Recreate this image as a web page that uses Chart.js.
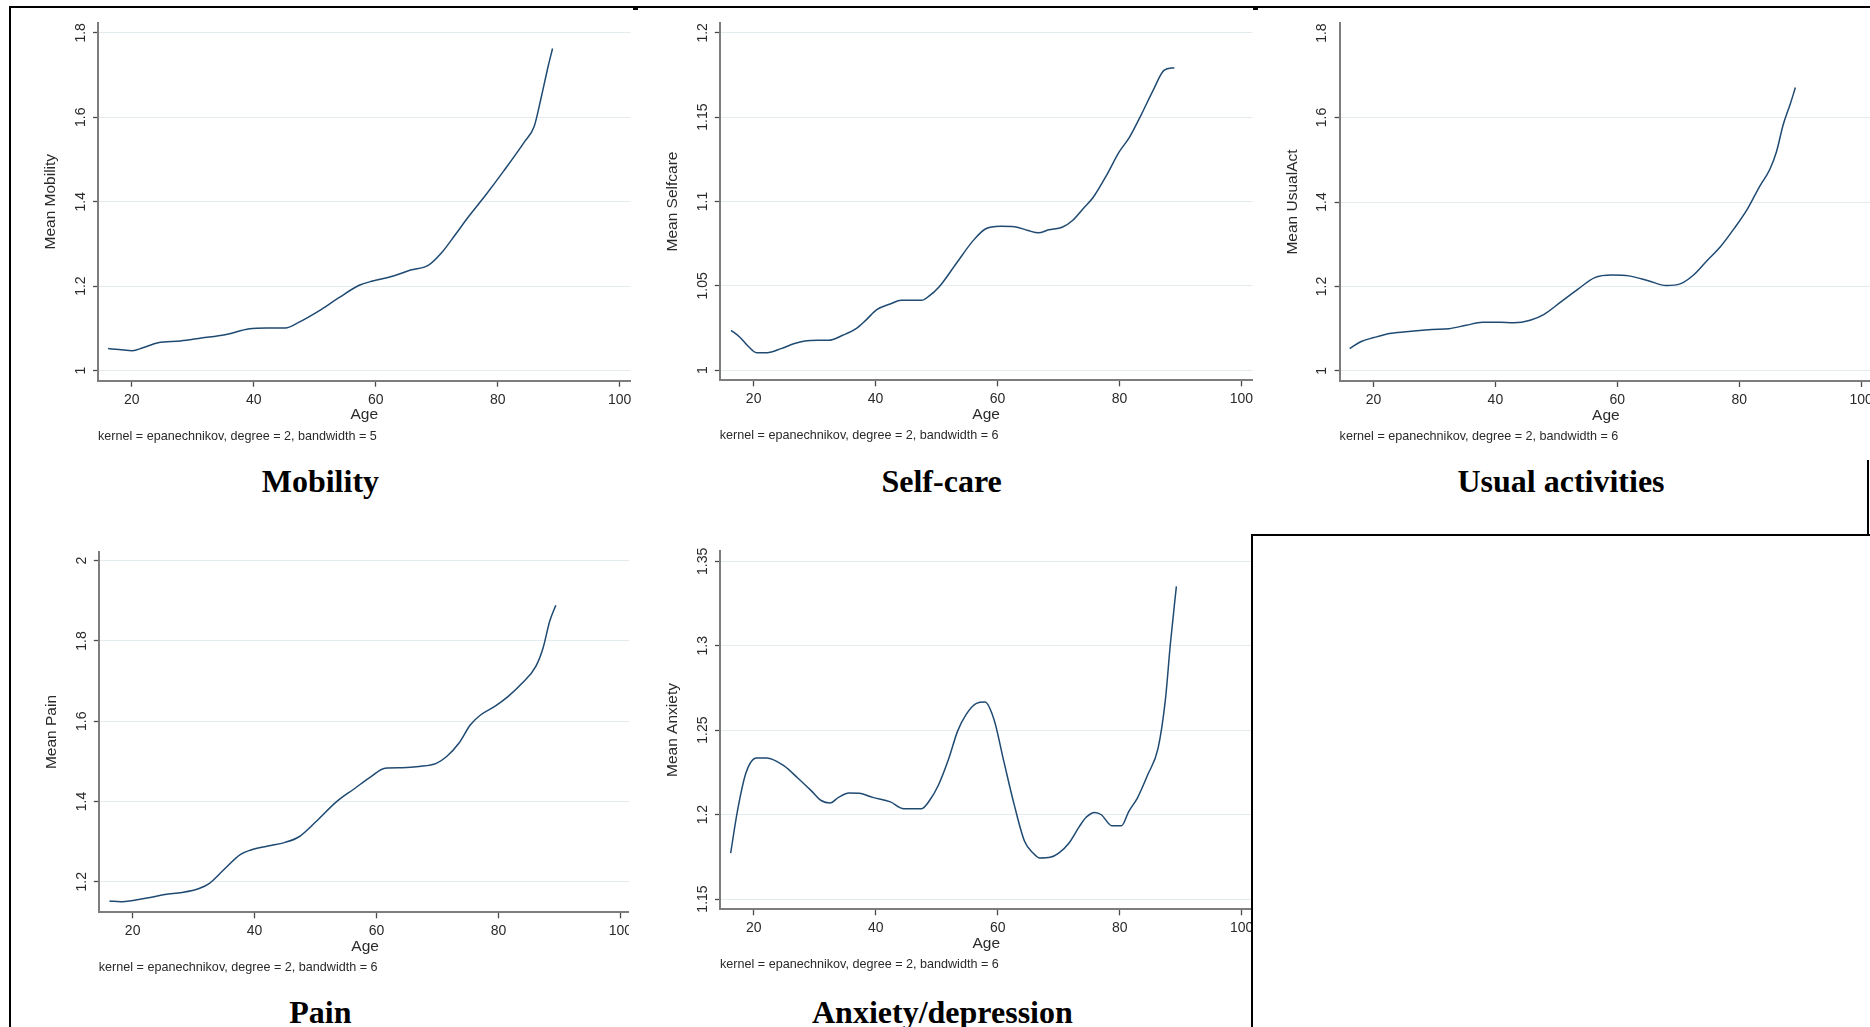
<!DOCTYPE html>
<html>
<head>
<meta charset="utf-8">
<script src="https://cdn.jsdelivr.net/npm/chart.js@4.4.1/dist/chart.umd.min.js"></script>
<style>
  html, body { margin: 0; padding: 0; background: #fff; width: 1870px; height: 1027px; overflow: hidden; position: relative; }
  .panel { position: absolute; }
  .panel canvas { display: block; }
  .cap { position: absolute; width: 500px; height: 40px; line-height: 40px; text-align: center; white-space: nowrap;
         font-family: "Liberation Serif", "Times New Roman", serif; font-weight: bold; font-size: 32px; color: #000; }
  .ln { position: absolute; background: #000; }
</style>
</head>
<body>
<script>
// ---------------- DATA ----------------
const xTicks = [20, 40, 60, 80, 100];
const xRange = [14.45, 101.8];

const mobilityAge  = [16.1,17.9,20.1,21.8,24.3,28,31.4,35.3,39.3,42.1,45.2,47.2,51.1,53.9,57.3,59.5,62.9,65.7,68.6,70.8,73.1,75.3,78.1,81,84.3,86,87.2,88.3,89];
const mobilityMean = [1.052,1.050,1.047,1.054,1.066,1.070,1.077,1.085,1.099,1.101,1.101,1.113,1.145,1.172,1.202,1.212,1.224,1.238,1.249,1.279,1.323,1.366,1.417,1.473,1.540,1.579,1.651,1.722,1.763];
const mobilityYTicks = [1, 1.2, 1.4, 1.6, 1.8];
const mobilityYRange = [0.976, 1.824];

const selfcareAge  = [16.3,17.7,19.1,20.5,22.2,24.5,26.7,28.4,30.6,32.3,34.6,36.8,38.5,40.2,42.5,44.2,47.5,48.7,50.4,53.2,56,58,60.5,62.8,65,66.7,68.4,70.6,72.3,74,75.7,78,79.9,81.6,83.6,85.6,87.3,89];
const selfcareMean = [1.0236,1.0197,1.0142,1.0104,1.0104,1.0128,1.0158,1.0173,1.0177,1.0177,1.0207,1.0246,1.0300,1.0359,1.0394,1.0414,1.0414,1.0437,1.0493,1.0631,1.0768,1.0837,1.0853,1.0851,1.0828,1.0814,1.0832,1.0847,1.0887,1.0956,1.1025,1.1163,1.1291,1.1379,1.1517,1.1665,1.1777,1.1793];
const selfcareYTicks = [1, 1.05, 1.1, 1.15, 1.2];
const selfcareYRange = [0.994, 1.206];

const usualAge  = [16.1,17.9,20.1,22.9,26.2,29.6,32.4,35.2,37.9,40.7,43,45.7,48,50.8,53.5,56.3,59.1,61.9,65.2,68,70.3,72.5,74.7,76.9,79.2,81.4,83.3,85,86.1,87.2,88.4,89.2];
const usualMean = [1.053,1.069,1.079,1.089,1.094,1.098,1.100,1.108,1.115,1.115,1.114,1.120,1.134,1.164,1.193,1.221,1.227,1.225,1.213,1.202,1.206,1.227,1.261,1.294,1.338,1.385,1.436,1.477,1.519,1.583,1.634,1.671];
const usualYTicks = [1, 1.2, 1.4, 1.6, 1.8];
const usualYRange = [0.976, 1.824];

const painAge  = [16.2,18,20.3,23.1,25.3,28.1,30.9,32.6,34.9,37.7,39.4,42.2,45,47.3,50.1,53.5,56.3,59.1,61.4,64.2,67,69.8,71.5,73.5,75.4,77.1,79.4,81.6,83.9,86.1,87.3,88.4,89.4];
const painMean = [1.152,1.150,1.154,1.161,1.168,1.173,1.183,1.196,1.229,1.268,1.279,1.289,1.298,1.312,1.350,1.400,1.431,1.462,1.483,1.484,1.487,1.495,1.512,1.545,1.591,1.616,1.637,1.662,1.695,1.736,1.782,1.849,1.889];
const painYTicks = [1.2, 1.4, 1.6, 1.8, 2];
const painYRange = [1.1237, 2.0224];

const anxietyAge  = [16.2,17.3,18.7,20.4,22.1,24.9,27.2,29.4,31.1,32.5,33.9,35.6,37.3,39.5,42.4,44.6,47.5,48.9,50.3,52,53.4,54.8,56.5,57.9,59.4,61,62.7,64.4,65.8,66.9,68.6,70,71.7,73.4,74.5,75.9,77,78.7,80.3,81.5,82.9,84.6,86.3,87.5,88.3,89.3];
const anxietyMean = [1.1772,1.2019,1.2246,1.2335,1.2335,1.2290,1.2217,1.2142,1.2082,1.2069,1.2102,1.2128,1.2126,1.2102,1.2075,1.2035,1.2035,1.2088,1.2177,1.2335,1.2493,1.2592,1.2659,1.2667,1.2562,1.2315,1.2059,1.1842,1.1772,1.1743,1.1747,1.1772,1.1832,1.1930,1.1984,1.2013,1.1999,1.1934,1.1934,1.2019,1.2098,1.2236,1.2394,1.2681,1.3006,1.3352];
const anxietyYTicks = [1.15, 1.2, 1.25, 1.3, 1.35];
const anxietyYRange = [1.1439, 1.3563];

const noteBandwidth5 = 'kernel = epanechnikov, degree = 2, bandwidth = 5';
const noteBandwidth6 = 'kernel = epanechnikov, degree = 2, bandwidth = 6';

// ---------------- LAYOUT / STYLE ----------------
const FONT = '"Liberation Sans", Arial, Helvetica, sans-serif';
const TXT = '#2a2a2a';
const LINE = '#1f4a72';
const GRID = '#e3ebee';
const AXIS = '#7d7d7d';
const TICKC = '#4a4a4a';
const tickFont = { family: FONT, size: 14 };
const titleFont = { family: FONT, size: 15.5 };
const noteFont = { family: FONT, size: 12.6 };
const PLOT_W = 532.6;
const HX = 43.6;           // x-scale block height (ticks + labels + "Age")
const NOTE_PAD = 4.3;

const panels = [
  { age: mobilityAge, val: mobilityMean, yT: mobilityYTicks, yR: mobilityYRange, yTitle: 'Mean Mobility', note: noteBandwidth5,
    caption: 'Mobility', capX: 320.4, capY: 480.6, cl: 10, ct: 8, cr: 636, ax: 98, top: 22.7, bottom: 380.7, hide: [] },
  { age: selfcareAge, val: selfcareMean, yT: selfcareYTicks, yR: selfcareYRange, yTitle: 'Mean Selfcare', note: noteBandwidth6,
    caption: 'Self-care', capX: 941.6, capY: 480.6, cl: 636, ct: 8, cr: 1256, ax: 719.8, top: 22.7, bottom: 380.3, hide: [] },
  { age: usualAge, val: usualMean, yT: usualYTicks, yR: usualYRange, yTitle: 'Mean UsualAct', note: noteBandwidth6,
    caption: 'Usual activities', capX: 1561, capY: 481, cl: 1256, ct: 8, cr: 1880, ax: 1339.6, top: 23, bottom: 381, hide: [1.8] },
  { age: painAge, val: painMean, yT: painYTicks, yR: painYRange, yTitle: 'Mean Pain', note: noteBandwidth6,
    caption: 'Pain', capX: 320.4, capY: 1012, cl: 10, ct: 540, cr: 632, ax: 98.8, top: 551.7, bottom: 912.3, hide: [] },
  { age: anxietyAge, val: anxietyMean, yT: anxietyYTicks, yR: anxietyYRange, yTitle: 'Mean Anxiety', note: noteBandwidth6,
    caption: 'Anxiety/depression', capX: 942.4, capY: 1012, cl: 629, ct: 540, cr: 1253, ax: 720, top: 550.7, bottom: 909.3, hide: [], bg: '#fff' }
];

const mctx = document.createElement('canvas').getContext('2d');
function textW(str, f) { mctx.font = f.size + 'px ' + f.family; return mctx.measureText(str).width; }

panels.forEach(p => {
  const cw = p.cr - p.cl;
  const wY = p.ax - p.cl;
  const T = p.top - p.ct;
  const R = cw - wY - PLOT_W;
  const plotH = p.bottom - p.top;
  const noteH = noteFont.size * 1.2 + NOTE_PAD;
  const need = T + plotH + HX + noteH;
  const ch = Math.ceil(need) + 1;
  const B = ch - need;

  const wrap = document.createElement('div');
  wrap.className = 'panel';
  wrap.style.left = p.cl + 'px'; wrap.style.top = p.ct + 'px';
  wrap.style.width = cw + 'px'; wrap.style.height = ch + 'px';
  if (p.bg) wrap.style.background = p.bg;
  const cv = document.createElement('canvas');
  wrap.appendChild(cv);
  document.body.appendChild(wrap);

  const labels = p.yT.map(v => String(v));
  const widest = Math.max(...labels.map(s => textW(s, tickFont)));
  const yPad = 17 - 5 - widest / 2;
  const yTitlePad = (wY - 47) - titleFont.size * 1.2 / 2;
  const xPad = 19.3 - 6 - tickFont.size * 1.2 / 2;

  new Chart(cv, {
    type: 'line',
    data: {
      datasets: [{
        data: p.age.map((a, i) => ({ x: a, y: p.val[i] })),
        borderColor: LINE, borderWidth: 1.5, pointRadius: 0, fill: false,
        cubicInterpolationMode: 'monotone'
      }]
    },
    options: {
      responsive: true, maintainAspectRatio: false, animation: false, events: [],
      devicePixelRatio: 1,
      layout: { padding: { left: 0, top: T, right: R, bottom: B } },
      plugins: {
        legend: { display: false }, tooltip: { enabled: false }, title: { display: false },
        subtitle: { display: true, text: p.note, position: 'bottom', align: 'start', fullSize: false,
          font: noteFont, color: TXT, padding: { top: NOTE_PAD, bottom: 0 } }
      },
      scales: {
        x: {
          type: 'linear', min: xRange[0], max: xRange[1], bounds: 'data',
          afterBuildTicks: s => { s.ticks = xTicks.map(v => ({ value: v })); },
          afterFit: s => { s.height = HX; s.paddingLeft = 0; s.paddingRight = 0; },
          grid: { drawOnChartArea: false, drawTicks: true, tickLength: 6, tickColor: TICKC, tickWidth: 1.3 },
          border: { display: true, color: AXIS, width: 2 },
          ticks: { font: tickFont, color: TXT, padding: xPad, maxRotation: 0, autoSkip: false, callback: v => String(v) },
          title: { display: true, text: 'Age', font: titleFont, color: TXT, padding: { top: 0, bottom: 0 } }
        },
        y: {
          type: 'linear', min: p.yR[0], max: p.yR[1], bounds: 'data',
          afterBuildTicks: s => { s.ticks = p.yT.map(v => ({ value: v })); },
          afterFit: s => { s.width = wY; s.paddingTop = 0; s.paddingBottom = 0; },
          grid: {
            drawOnChartArea: true, drawTicks: true, tickLength: 5, tickWidth: 1.3, lineWidth: 1,
            color: c => (c.tick && p.hide.includes(c.tick.value)) ? 'rgba(0,0,0,0)' : GRID,
            tickColor: c => (c.tick && p.hide.includes(c.tick.value)) ? 'rgba(0,0,0,0)' : TICKC
          },
          border: { display: true, color: AXIS, width: 2 },
          ticks: { font: tickFont, color: TXT, padding: yPad, minRotation: 90, maxRotation: 90, crossAlign: 'center',
                   autoSkip: false, callback: v => String(v) },
          title: { display: true, text: p.yTitle, font: titleFont, color: TXT, padding: { top: yTitlePad, bottom: 0 } }
        }
      }
    }
  });

  const cap = document.createElement('div');
  cap.className = 'cap';
  cap.textContent = p.caption;
  cap.style.left = (p.capX - 250) + 'px';
  cap.style.top = (p.capY - 20) + 'px';
  document.body.appendChild(cap);
});

// document table frame lines
function line(l, t, w, h) {
  const d = document.createElement('div'); d.className = 'ln';
  d.style.left = l + 'px'; d.style.top = t + 'px'; d.style.width = w + 'px'; d.style.height = h + 'px';
  document.body.appendChild(d);
}
line(9, 6, 1861, 2);       // top border
line(9, 6, 2, 1021);       // left border
line(633, 8, 5, 2);        // small joins
line(1253, 8, 5, 2);
line(1867, 460, 2, 76);    // right border of top-right cell
line(1251, 534, 619, 2);   // top of empty cell
line(1251, 534, 2, 493);   // left of empty cell
</script>
</body>
</html>
